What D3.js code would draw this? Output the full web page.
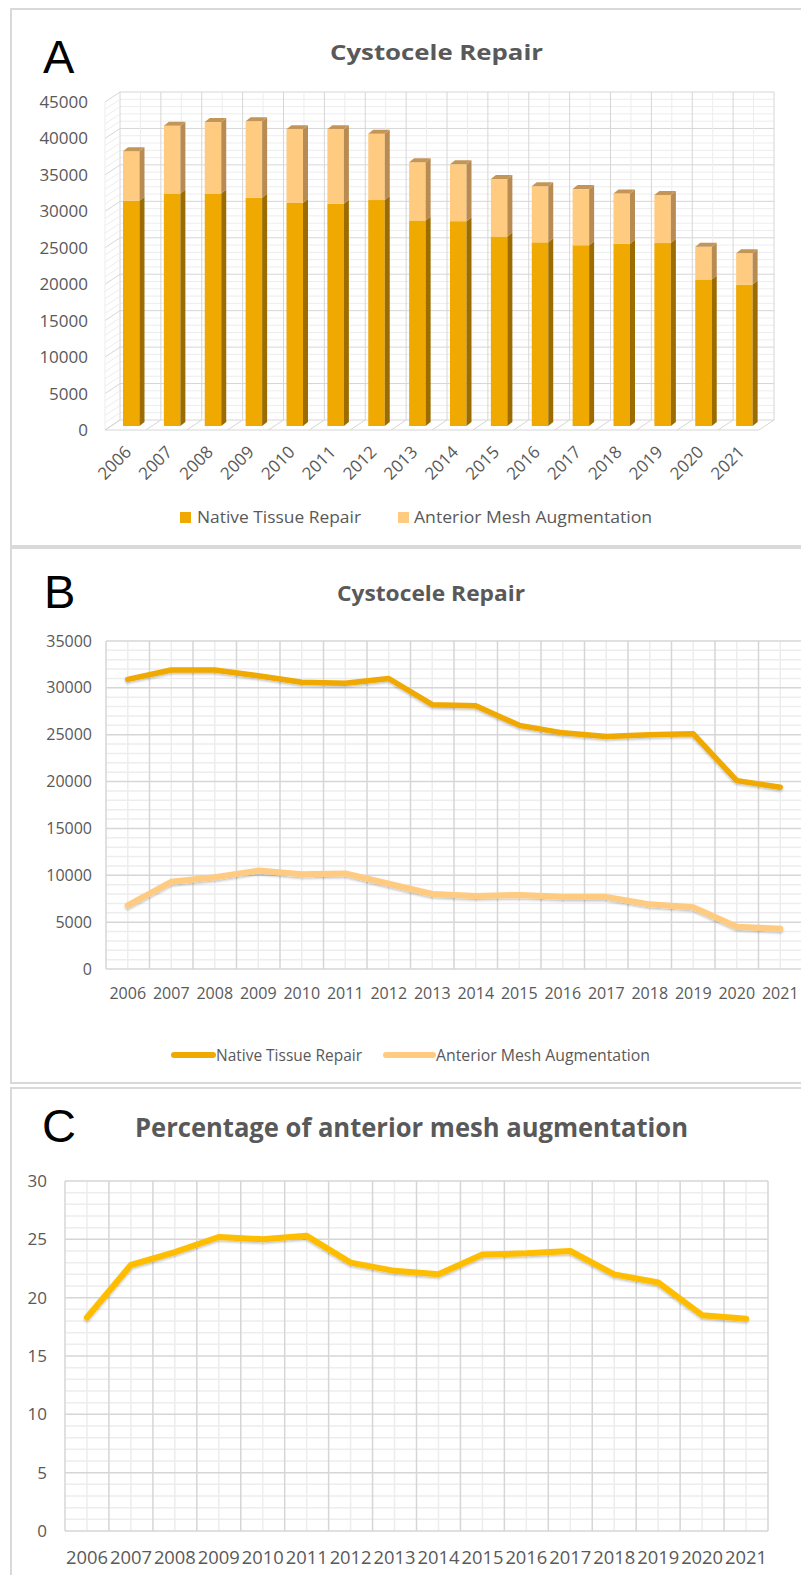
<!DOCTYPE html>
<html>
<head>
<meta charset="utf-8">
<script src="https://cdn.jsdelivr.net/npm/d3@7"></script>
<style>
  body { margin: 0; background: #fff; }
  svg { display: block; }
  text { font-family: "Open Sans", sans-serif; }
</style>
</head>
<body>
<div id="container"></div>
<script>
// values
let years = ["2006", "2007", "2008", "2009", "2010", "2011", "2012", "2013",
             "2014", "2015", "2016", "2017", "2018", "2019", "2020", "2021"];
let nativeTissue = [30900, 31900, 31900, 31300, 30600, 30500, 31000, 28200,
                    28100, 26000, 25200, 24800, 25000, 25100, 20100, 19400];
let meshAugmentation = [6800, 9300, 9800, 10500, 10100, 10200, 9100, 8000,
                        7800, 7900, 7700, 7700, 6900, 6600, 4500, 4300];
let percentMesh = [18.3, 22.8, 23.9, 25.2, 25.0, 25.3, 23.0, 22.3,
                   22.0, 23.7, 23.8, 24.0, 22.0, 21.3, 18.5, 18.2];
let seriesNames = ["Native Tissue Repair", "Anterior Mesh Augmentation"];
let ticksA = d3.range(0, 45001, 5000);
let ticksB = d3.range(0, 35001, 5000);
let ticksC = d3.range(0, 31, 5);

let w = 801;
let h = 1575;
let textGrey = "#595959";
let majorGrid = "#d6d6d6";
let minorGrid = "#ededed";
let nativeColor = "#f0a900";
let meshColor = "#ffcb80";

let viz = d3.select("#container")
  .append("svg")
    .attr("width", w)
    .attr("height", h)
;

// soft shadow like the spreadsheet default
let defs = viz.append("defs");
defs.append("filter").attr("id", "shadow")
    .attr("x", "-5%").attr("y", "-20%").attr("width", "110%").attr("height", "140%")
  .append("feDropShadow")
    .attr("dx", 0).attr("dy", 1.5).attr("stdDeviation", 1.2)
    .attr("flood-color", "#000").attr("flood-opacity", 0.25);

// panel frames
let frames = [[11, 9, 546], [11, 548, 1083], [11, 1088, 1590]];
frames.forEach(function(f){
  viz.append("rect")
    .attr("x", f[0]).attr("y", f[1])
    .attr("width", 820).attr("height", f[2] - f[1])
    .attr("fill", "none")
    .attr("stroke", "#d9d9d9")
    .attr("stroke-width", 2);
});

function panelLetter(letter, x, y){
  viz.append("text")
    .attr("x", x).attr("y", y)
    .style("font-family", "'Liberation Sans', sans-serif")
    .style("font-size", "47px")
    .attr("fill", "#000")
    .text(letter);
}
function panelTitle(txt, cx, y, size, len){
  viz.append("text")
    .attr("x", cx - len / 2).attr("y", y)
    .attr("textLength", len)
    .attr("lengthAdjust", "spacingAndGlyphs")
    .style("font-size", size + "px")
    .style("font-weight", "bold")
    .attr("fill", textGrey)
    .text(txt);
}

// ---------------- Panel A : 3D stacked columns ----------------
panelLetter("A", 43, 73);
panelTitle("Cystocele Repair", 436.5, 60, 22, 213);

let yA = d3.scaleLinear().domain([0, 45000]).range([430, 102]); // front plane
let xA = d3.scaleBand().domain(years).range([120, 774]);         // back wall
let dX = 15, dY = -10;     // wall depth
let gA = viz.append("g").attr("class", "panelA");
let minorA = d3.range(0, 45001, 1000);

// back wall grid
minorA.forEach(function(v){
  gA.append("line")
    .attr("x1", 120).attr("x2", 774)
    .attr("y1", yA(v) + dY).attr("y2", yA(v) + dY)
    .attr("stroke", v % 5000 === 0 ? majorGrid : minorGrid)
    .attr("stroke-width", 1);
});
years.forEach(function(y){
  gA.append("line")
    .attr("x1", xA(y) + xA.bandwidth() / 2).attr("x2", xA(y) + xA.bandwidth() / 2)
    .attr("y1", yA(0) + dY).attr("y2", yA(45000) + dY)
    .attr("stroke", minorGrid);
});
xA.domain().concat(["end"]).forEach(function(y, i){
  let bx = 120 + i * xA.bandwidth();
  gA.append("line")
    .attr("x1", bx).attr("x2", bx)
    .attr("y1", yA(0) + dY).attr("y2", yA(45000) + dY)
    .attr("stroke", majorGrid);
  // floor lines
  gA.append("line")
    .attr("x1", bx - dX).attr("x2", bx)
    .attr("y1", yA(0)).attr("y2", yA(0) + dY)
    .attr("stroke", majorGrid);
});
// left wall diagonals
minorA.forEach(function(v){
  gA.append("line")
    .attr("x1", 120 - dX).attr("x2", 120)
    .attr("y1", yA(v)).attr("y2", yA(v) + dY)
    .attr("stroke", v % 5000 === 0 ? majorGrid : minorGrid);
});
gA.append("line")
  .attr("x1", 120 - dX).attr("x2", 120 - dX)
  .attr("y1", yA(0)).attr("y2", yA(45000))
  .attr("stroke", minorGrid);
gA.append("line")
  .attr("x1", 120 - dX).attr("x2", 774 - dX)
  .attr("y1", yA(0)).attr("y2", yA(0))
  .attr("stroke", majorGrid);

// bars
let stackData = years.map(function(y, i){
  return { year: y, native: nativeTissue[i], mesh: meshAugmentation[i] };
});
let stacked = d3.stack().keys(["native", "mesh"])(stackData);
let barW = 16.5, sideX = 5, sideY = -4, barOff = -4;
let faceColors = { native: [nativeColor, "#9c6c00"], mesh: [meshColor, "#b88b52"] };
function yBar(v){ return yA(v) + barOff; }

stacked.forEach(function(layer){
  let cols = faceColors[layer.key];
  let grp = gA.append("g").attr("class", "layer-" + layer.key);
  grp.selectAll(".front").data(layer).enter().append("rect")
    .attr("class", "front")
    .attr("x", d => xA(d.data.year) + 3)
    .attr("y", d => yBar(d[1]))
    .attr("width", barW)
    .attr("height", d => yBar(d[0]) - yBar(d[1]))
    .attr("fill", cols[0]);
  grp.selectAll(".side").data(layer).enter().append("polygon")
    .attr("class", "side")
    .attr("points", function(d){
      let x = xA(d.data.year) + 3 + barW;
      return [[x, yBar(d[0])], [x + sideX, yBar(d[0]) + sideY],
              [x + sideX, yBar(d[1]) + sideY], [x, yBar(d[1])]].join(" ");
    })
    .attr("fill", cols[1]);
});
// top faces on the upper segment
let topLayer = stacked[stacked.length - 1];
gA.selectAll(".topface").data(topLayer).enter().append("polygon")
  .attr("class", "topface")
  .attr("points", function(d){
    let x = xA(d.data.year) + 3;
    let yt = yBar(d[1]);
    return [[x, yt], [x + sideX, yt + sideY], [x + barW + sideX, yt + sideY], [x + barW, yt]].join(" ");
  })
  .attr("fill", "#c39658");

// y labels
gA.selectAll(".ylab").data(ticksA).enter().append("text")
  .attr("class", "ylab")
  .attr("x", 88).attr("y", d => yA(d))
  .attr("dy", "0.35em")
  .attr("text-anchor", "end")
  .style("font-size", "17px")
  .attr("fill", textGrey)
  .text(d => d);

// rotated x labels
gA.selectAll(".xlab").data(years).enter().append("text")
  .attr("class", "xlab")
  .attr("transform", d => "translate(" + (xA(d) + 3 + barW / 2 - 3) + ",449) rotate(-45)")
  .attr("dy", "0.35em")
  .attr("text-anchor", "end")
  .style("font-size", "17px")
  .attr("fill", textGrey)
  .text(d => d);

// legend A
let legendA = [[180, 197, nativeColor, 164], [398, 414, meshColor, 238]];
legendA.forEach(function(l, i){
  gA.append("rect").attr("x", l[0]).attr("y", 512).attr("width", 11).attr("height", 11).attr("fill", l[2]);
  gA.append("text").attr("x", l[1]).attr("y", 523)
    .attr("textLength", l[3]).attr("lengthAdjust", "spacingAndGlyphs")
    .style("font-size", "17px").attr("fill", textGrey)
    .text(seriesNames[i]);
});

// ---------------- helper for the two flat line charts ----------------
function drawGrid(g, xS, yS, minorStep, majorStep, yMax){
  let left = xS.range()[0], right = xS.range()[1];
  d3.range(0, yMax + 0.001, minorStep).forEach(function(v){
    let isMajor = Math.abs(v / majorStep - Math.round(v / majorStep)) < 1e-6;
    if (isMajor) return;
    g.append("line").attr("x1", left).attr("x2", right)
      .attr("y1", yS(v)).attr("y2", yS(v))
      .attr("stroke", minorGrid).attr("stroke-width", 1.5);
  });
  years.forEach(function(y){
    let cx = xS(y) + xS.bandwidth() / 2;
    g.append("line").attr("x1", cx).attr("x2", cx)
      .attr("y1", yS(0)).attr("y2", yS(yMax))
      .attr("stroke", minorGrid).attr("stroke-width", 1.5);
  });
  d3.range(0, yMax + 0.001, majorStep).forEach(function(v){
    g.append("line").attr("x1", left).attr("x2", right)
      .attr("y1", yS(v)).attr("y2", yS(v))
      .attr("stroke", majorGrid).attr("stroke-width", 1.5);
  });
  years.concat(["end"]).forEach(function(y, i){
    let bx = left + i * xS.bandwidth();
    g.append("line").attr("x1", bx).attr("x2", bx)
      .attr("y1", yS(0)).attr("y2", yS(yMax))
      .attr("stroke", majorGrid).attr("stroke-width", 1.5);
  });
}

// ---------------- Panel B : lines ----------------
panelLetter("B", 44, 608);
panelTitle("Cystocele Repair", 431, 601, 21, 188);

let xB = d3.scaleBand().domain(years).range([106, 802]);
let yB = d3.scaleLinear().domain([0, 35000]).range([969, 641]);
let gB = viz.append("g").attr("class", "panelB");
drawGrid(gB, xB, yB, 1000, 5000, 35000);

let lineB = d3.line()
  .x((d, i) => xB(years[i]) + xB.bandwidth() / 2)
  .y(d => yB(d));
gB.append("path").datum(nativeTissue)
  .attr("d", lineB).attr("fill", "none")
  .attr("stroke", nativeColor).attr("stroke-width", 5.5)
  .attr("stroke-linejoin", "round").attr("stroke-linecap", "round")
  .attr("filter", "url(#shadow)");
gB.append("path").datum(meshAugmentation)
  .attr("d", lineB).attr("fill", "none")
  .attr("stroke", meshColor).attr("stroke-width", 6)
  .attr("stroke-linejoin", "round").attr("stroke-linecap", "round")
  .attr("filter", "url(#shadow)");

gB.selectAll(".ylab").data(ticksB).enter().append("text")
  .attr("x", 92).attr("y", d => yB(d)).attr("dy", "0.35em")
  .attr("text-anchor", "end").style("font-size", "16px").attr("fill", textGrey)
  .text(d => d);
gB.selectAll(".xlab").data(years).enter().append("text")
  .attr("x", d => xB(d) + xB.bandwidth() / 2).attr("y", 993).attr("dy", "0.35em")
  .attr("text-anchor", "middle").style("font-size", "16px").attr("fill", textGrey)
  .text(d => d);

let legendB = [[174, 213, 216, nativeColor, 146], [386, 433, 436, meshColor, 214]];
legendB.forEach(function(l, i){
  gB.append("line").attr("x1", l[0]).attr("x2", l[1]).attr("y1", 1055).attr("y2", 1055)
    .attr("stroke", l[3]).attr("stroke-width", 6).attr("stroke-linecap", "round");
  gB.append("text").attr("x", l[2]).attr("y", 1055).attr("dy", "0.35em")
    .attr("textLength", l[4]).attr("lengthAdjust", "spacingAndGlyphs")
    .style("font-size", "16px").attr("fill", textGrey)
    .text(seriesNames[i]);
});

// ---------------- Panel C : percentage ----------------
panelLetter("C", 42, 1142);
panelTitle("Percentage of anterior mesh augmentation", 411.5, 1137, 27, 553);

let xC = d3.scaleBand().domain(years).range([65, 768]);
let yC = d3.scaleLinear().domain([0, 30]).range([1531, 1181]);
let gC = viz.append("g").attr("class", "panelC");
drawGrid(gC, xC, yC, 1, 5, 30);

let lineC = d3.line()
  .x((d, i) => xC(years[i]) + xC.bandwidth() / 2)
  .y(d => yC(d));
gC.append("path").datum(percentMesh)
  .attr("d", lineC).attr("fill", "none")
  .attr("stroke", "#ffbd00").attr("stroke-width", 6)
  .attr("stroke-linejoin", "round").attr("stroke-linecap", "round")
  .attr("filter", "url(#shadow)");

gC.selectAll(".ylab").data(ticksC).enter().append("text")
  .attr("x", 47).attr("y", d => yC(d)).attr("dy", "0.35em")
  .attr("text-anchor", "end").style("font-size", "17px").attr("fill", textGrey)
  .text(d => d);
gC.selectAll(".xlab").data(years).enter().append("text")
  .attr("x", d => xC(d) + 1).attr("y", 1558).attr("dy", "0.35em")
  .attr("textLength", 42).attr("lengthAdjust", "spacingAndGlyphs")
  .style("font-size", "18px").attr("fill", textGrey)
  .text(d => d);
</script>
</body>
</html>
